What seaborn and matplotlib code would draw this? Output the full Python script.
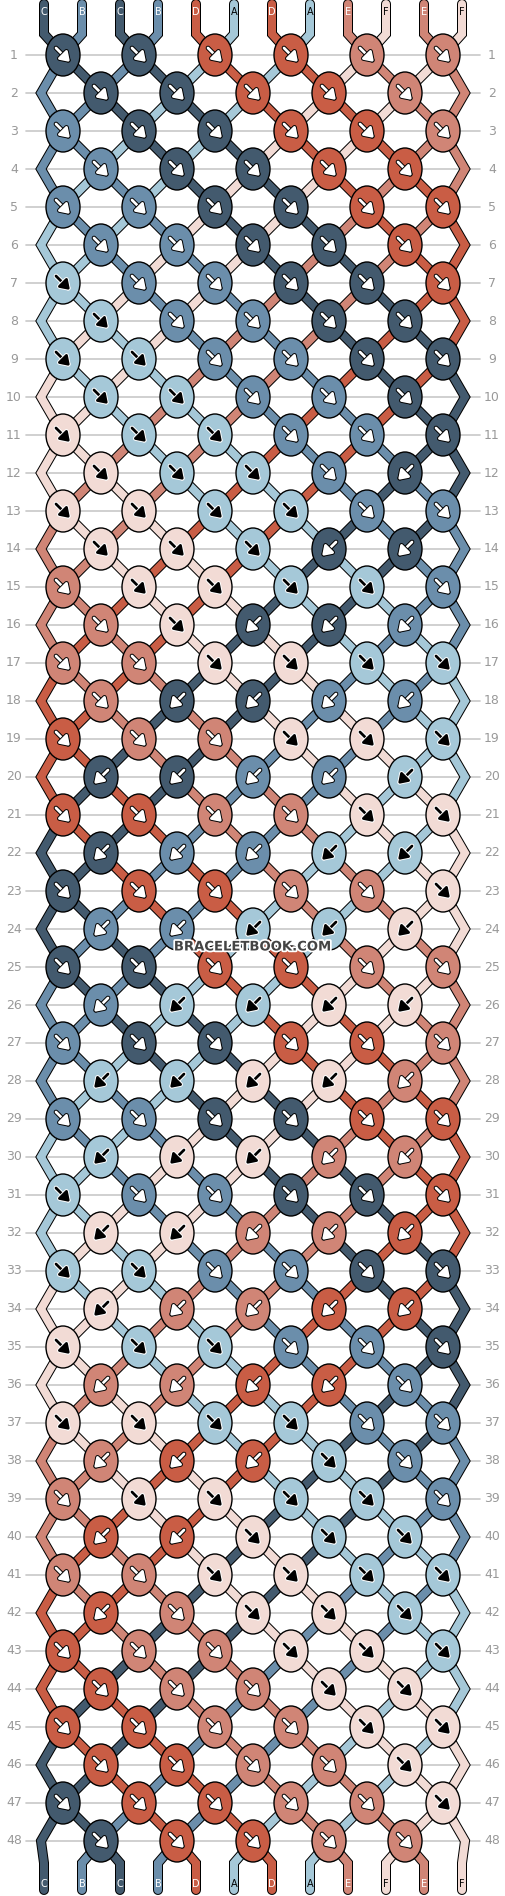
import matplotlib
matplotlib.use("Agg")
import matplotlib.pyplot as plt
import matplotlib.patheffects as pe
from matplotlib.patches import Ellipse
import seaborn as sns

sns.set_theme(style="white")
plt.rcParams['font.family'] = ['DejaVu Sans']

strings_top = ["C", "B", "C", "B", "D", "A", "D", "A", "E", "F", "E", "F"]
palette = {"C": "#435a6e", "B": "#6b8eab", "A": "#a5c8d8",
           "D": "#c95d45", "E": "#d08576", "F": "#f2dbd5"}
dark_letters = {"A", "F"}

# knot colours per row (odd rows 6 knots, even rows 5 knots)
knot_colors = [
    "CCDDEE", "CCDDE", "BCCDDE", "BCCDD", "BBCCDD", "BBCCD",
    "ABBCCD", "ABBCC", "AABBCC", "AABBC", "FAABBC", "FAABC",
    "FFAABB", "FFACC", "EFFAAB", "EFCCB", "EEFFAA", "ECCBB",
    "DEEFFA", "CCBBA", "DDEEFF", "CBBAA", "CDDEEF", "BBAAF",
    "CCDDEE", "BAAFF", "BCCDDE", "AAFFE", "BBCCDD", "AFFEE",
    "ABBCCD", "FFEED", "AABBCC", "FEEDD", "FAABBC", "EEDDB",
    "FFAABB", "EDDAB", "EFFAAB", "DDFAA", "EEFFAA", "DEFFA",
    "DEEFFA", "DEEFF", "DDEEFF", "DDEEF", "CDDEEF", "CDDEE",
]
# knot directions: f = forward (↘), b = backward (↙)
knot_dirs = [
    "ffffff", "fffff", "ffffff", "fffff", "ffffff", "fffff",
    "ffffff", "fffff", "ffffff", "fffff", "ffffff", "ffffb",
    "ffffff", "fffbb", "ffffff", "ffbbb", "ffffff", "fbbbb",
    "ffffff", "bbbbb", "ffffff", "bbbbb", "ffffff", "bbbbb",
    "ffffff", "bbbbb", "ffffff", "bbbbb", "ffffff", "bbbbb",
    "ffffff", "bbbbb", "ffffff", "bbbbb", "ffffff", "bbbbf",
    "ffffff", "bbbff", "ffffff", "bbfff", "ffffff", "bffff",
    "ffffff", "fffff", "ffffff", "fffff", "ffffff", "fffff",
]
row_labels = [str(i) for i in range(1, 49)]

W, H = 506, 1896
fig = plt.figure(figsize=(W / 100, H / 100), dpi=100)
ax = fig.add_axes([0, 0, 1, 1])
ax.set_xlim(0, W)
ax.set_ylim(H, 0)
ax.axis("off")

n = len(strings_top)
sx = [44 + 38 * i for i in range(n)]
ry = [55 + 38 * r for r in range(len(row_labels))]
left_edge, right_edge = 41, 465
PX = 0.72  # points per pixel

for r, y in enumerate(ry):
    ax.plot([26, 480], [y, y], color="#c8c8c8", lw=1.2, zorder=0)
    ax.text(14, y, row_labels[r], ha="center", va="center", color="#999999", fontsize=9)
    ax.text(492, y, row_labels[r], ha="center", va="center", color="#999999", fontsize=9)

# simulate string paths (each knot swaps its two strings)
order = list(range(n))
paths = {i: [(sx[i], 4), (sx[i], 34)] for i in range(n)}
for r, y in enumerate(ry):
    start = 0 if r % 2 == 0 else 1
    knotted = set()
    for p in range(start, n - 1, 2):
        xk = (sx[p] + sx[p + 1]) / 2
        a, b = order[p], order[p + 1]
        paths[a].append((xk, y))
        paths[b].append((xk, y))
        order[p], order[p + 1] = b, a
        knotted.update([p, p + 1])
    for p in range(n):
        if p not in knotted:
            ex = left_edge if p == 0 else right_edge
            paths[order[p]].append((ex, y))
for p in range(n):
    s = order[p]
    paths[s].append((sx[p], ry[-1] + 22))
    paths[s].append((sx[p], 1890))

for s in range(n):
    xs, ys = zip(*paths[s])
    ax.plot(xs, ys, color="black", lw=10 * PX, solid_capstyle="round",
            solid_joinstyle="miter", zorder=1)
    ax.plot(xs, ys, color=palette[strings_top[s]], lw=8 * PX,
            solid_capstyle="round", solid_joinstyle="miter", zorder=2)

for i, c in enumerate(strings_top):
    tc = "black" if c in dark_letters else "white"
    ax.text(sx[i], 12, c, ha="center", va="center", fontsize=7, color=tc, zorder=3)
final = [strings_top[order[p]] for p in range(n)]
for i, c in enumerate(final):
    tc = "black" if c in dark_letters else "white"
    ax.text(sx[i], 1884, c, ha="center", va="center", fontsize=7, color=tc, zorder=3)

for r, y in enumerate(ry):
    start = 0 if r % 2 == 0 else 1
    for k, p in enumerate(range(start, n - 1, 2)):
        xk = (sx[p] + sx[p + 1]) / 2
        c = knot_colors[r][k]
        ax.add_patch(Ellipse((xk, y), 34, 42, facecolor=palette[c],
                             edgecolor="black", lw=1.0, zorder=4))
        fg = "black" if c in dark_letters else "white"
        bg = "white" if fg == "black" else "black"
        d = 7
        if knot_dirs[r][k] == "f":
            xy, xyt = (xk + d, y + d), (xk - d, y - d)
        else:
            xy, xyt = (xk - d, y + d), (xk + d, y - d)
        an = ax.annotate("", xy=xy, xytext=xyt, zorder=5,
                         arrowprops=dict(arrowstyle="-|>,head_length=0.45,head_width=0.3",
                                         mutation_scale=12, lw=2.0, color=fg,
                                         shrinkA=0, shrinkB=0))
        an.arrow_patch.set_path_effects([pe.Stroke(linewidth=3.4, foreground=bg), pe.Normal()])

ax.text(253, 947, "BRACELETBOOK.COM", ha="center", va="center", fontsize=9.5,
        fontweight="bold", color="#444444", zorder=6,
        path_effects=[pe.withStroke(linewidth=2.5, foreground="white")])

fig.savefig("out.png", dpi=100, facecolor="white")
